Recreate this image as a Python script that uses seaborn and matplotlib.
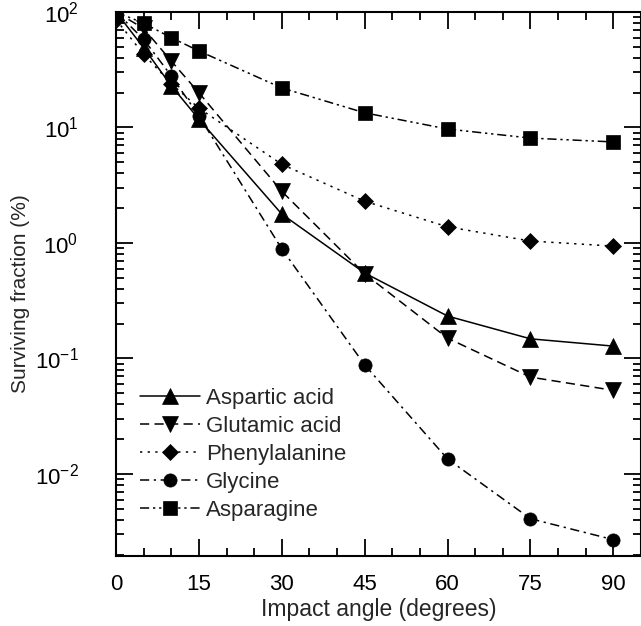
import numpy as np
import pandas as pd
import seaborn as sns
import matplotlib
matplotlib.use("Agg")
import matplotlib.pyplot as plt
from matplotlib.ticker import FixedLocator, LogLocator, NullFormatter, MultipleLocator

angles = [0, 5, 10, 15, 30, 45, 60, 75, 90]
aspartic = [100, 49, 23, 11.8, 1.78, 0.55, 0.233, 0.148, 0.128]
glutamic = [100, 72, 37.6, 20, 2.8, 0.54, 0.15, 0.069, 0.053]
phenylalanine = [86, 43, 24, 14.7, 4.8, 2.3, 1.38, 1.04, 0.94]
glycine = [100, 58, 28, 12.6, 0.89, 0.088, 0.0135, 0.0041, 0.0027]
asparagine = [100, 80, 60, 46, 22, 13.4, 9.7, 8.1, 7.5]

names = ["Aspartic acid", "Glutamic acid", "Phenylalanine", "Glycine", "Asparagine"]
series = [aspartic, glutamic, phenylalanine, glycine, asparagine]

rows = []
for n, vals in zip(names, series):
    for a, v in zip(angles, vals):
        rows.append({"angle": a, "frac": v, "amino": n})
df = pd.DataFrame(rows)

sns.set_theme(style="ticks")
plt.rcParams["font.family"] = ["Liberation Sans", "DejaVu Sans"]
plt.rcParams["mathtext.fontset"] = "custom"
plt.rcParams["mathtext.rm"] = "Liberation Sans"
plt.rcParams["mathtext.it"] = "Liberation Sans:italic"

fig = plt.figure(figsize=(6.41, 6.26), dpi=100)
ax = fig.add_axes([116 / 641, 1 - 556 / 626, (641 - 116) / 641, (556 - 12) / 626])

markers = {"Aspartic acid": "^", "Glutamic acid": "v", "Phenylalanine": "D",
           "Glycine": "o", "Asparagine": "s"}
dashes = {"Aspartic acid": "", "Glutamic acid": (6, 3.5), "Phenylalanine": (1.5, 3.5),
          "Glycine": (6, 3, 1.5, 3), "Asparagine": (6, 2.5, 1.5, 2.5, 1.5, 2.5)}
palette = {n: "black" for n in names}
msize = {"Aspartic acid": 11, "Glutamic acid": 11, "Phenylalanine": 8.5,
         "Glycine": 9.5, "Asparagine": 9.5}

sns.lineplot(data=df, x="angle", y="frac", hue="amino", style="amino",
             hue_order=names, style_order=names,
             markers=markers, dashes=dashes, palette=palette,
             linewidth=1.1, markersize=9, markeredgecolor="black",
             markeredgewidth=0.5, legend=False, ax=ax)

for line, n in zip(ax.lines, names):
    line.set_markersize(msize[n])
    line.set_label(n)

ax.set_yscale("log")
ax.set_xlim(0, 95)
ax.set_ylim(0.00195, 100)

ax.xaxis.set_major_locator(FixedLocator([0, 15, 30, 45, 60, 75, 90]))
ax.xaxis.set_minor_locator(MultipleLocator(5))
ax.yaxis.set_major_locator(LogLocator(base=10, numticks=10))
ax.yaxis.set_minor_locator(LogLocator(base=10, subs=np.arange(2, 10), numticks=20))
ax.yaxis.set_minor_formatter(NullFormatter())

ax.tick_params(which="both", direction="in", top=True, right=True, width=1.3,
               colors="black", labelsize=16)
ax.tick_params(which="major", length=12)
ax.tick_params(which="minor", length=6)
ax.tick_params(axis="x", pad=13)
ax.tick_params(axis="y", pad=27)

for s in ax.spines.values():
    s.set_linewidth(1.5)
    s.set_color("black")

ax.set_xlabel("Impact angle (degrees)", fontsize=16.5, labelpad=2)
ax.set_ylabel("Surviving fraction (%)", fontsize=15)
ax.yaxis.set_label_coords(-0.163, 0.483)

leg = ax.legend(handles=ax.lines, labels=names, loc="lower left",
                bbox_to_anchor=(0.045, 0.064), frameon=False, fontsize=16,
                handlelength=2.7, handletextpad=0.3, labelspacing=0.32,
                borderaxespad=0, borderpad=0)

fig.savefig("out.png", dpi=100)
